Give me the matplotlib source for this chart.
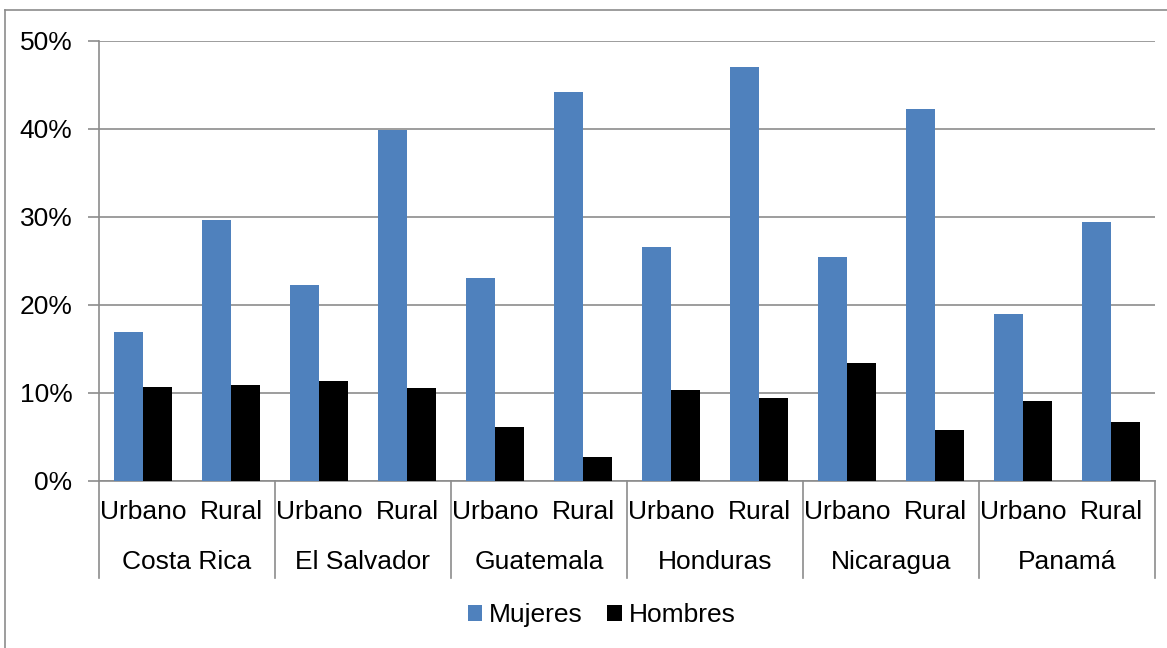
import numpy as np
import matplotlib.pyplot as plt
import matplotlib.transforms as mtransforms
from matplotlib.lines import Line2D
import matplotlib.ticker as mticker

plt.rcParams['font.family'] = ['Liberation Sans', 'DejaVu Sans']

countries = ['Costa Rica', 'El Salvador', 'Guatemala', 'Honduras', 'Nicaragua', 'Panamá']
zonas = ['Urbano', 'Rural']
mujeres = [16.9, 29.7, 22.3, 39.9, 23.1, 44.2, 26.6, 47.0, 25.5, 42.3, 19.0, 29.4]
hombres = [10.7, 10.9, 11.4, 10.6, 6.1, 2.7, 10.3, 9.4, 13.4, 5.8, 9.1, 6.7]

blue = '#4f81bd'
grid_c = '#8c8c8c'
fs = 19

fig = plt.figure(figsize=(11.67, 6.48), dpi=100)
ax = fig.add_axes([99/1167, 1 - 481/648, 1056/1167, 440/648])

x = np.arange(len(mujeres))
w = 0.33
ax.bar(x - w/2, mujeres, w, color=blue, label='Mujeres', zorder=3)
ax.bar(x + w/2, hombres, w, color='black', label='Hombres', zorder=3)

ax.set_xlim(-0.5, len(mujeres) - 0.5)
ax.set_ylim(0, 50)
ax.set_yticks(range(0, 51, 10))
ax.yaxis.set_major_formatter(mticker.PercentFormatter(decimals=0))
ax.grid(axis='y', color=grid_c, lw=1.2, zorder=0)
ax.tick_params(axis='y', length=8, color=grid_c, width=1.2, labelsize=fs, pad=11)

ax.set_xticks(x)
ax.set_xticklabels(zonas * len(countries), fontsize=fs)
ax.tick_params(axis='x', length=0, pad=14)

for s in ['top', 'right']:
    ax.spines[s].set_visible(False)
for s in ['left', 'bottom']:
    ax.spines[s].set_color(grid_c)
    ax.spines[s].set_linewidth(1.2)

# second level labels and separators
trans = mtransforms.blended_transform_factory(ax.transData, ax.transAxes)
for i, c in enumerate(countries):
    ax.text(2*i + 0.5, -81/440, c, transform=trans, ha='center', va='center', fontsize=fs)
for k in range(len(countries) + 1):
    ax.add_line(Line2D([2*k - 0.5, 2*k - 0.5], [0, -97/440], transform=trans,
                       color=grid_c, lw=1.2, clip_on=False))

# outer chart border
fig.add_artist(Line2D([5/1167, 5/1167], [0, 1 - 10/648], color='#8c8c8c', lw=1.2))
fig.add_artist(Line2D([5/1167, 1], [1 - 10/648, 1 - 10/648], color='#8c8c8c', lw=1.2))

fig.legend(loc='center', bbox_to_anchor=(0.5 + 18/1167, 1 - 615/648), ncol=2, frameon=False,
           fontsize=fs, handlelength=0.55, handleheight=0.55, handletextpad=0.25,
           columnspacing=0.95)

plt.savefig('out.png', dpi=100)
